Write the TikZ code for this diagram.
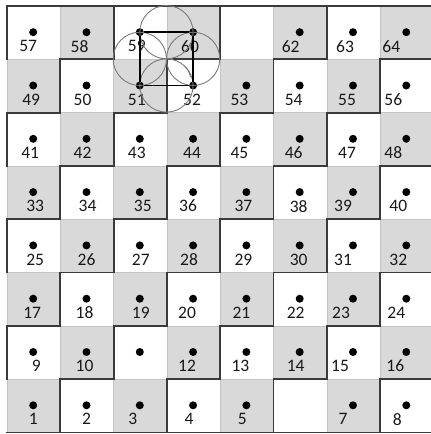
\documentclass[tikz,border=0pt]{standalone}
\usepackage{fontspec}
\setmainfont{Carlito}
\usepackage{tikz}
\usetikzlibrary{calc}
\definecolor{cellgray}{HTML}{D9D9D9}
\definecolor{gridgray}{HTML}{C4C4C4}
\definecolor{wallgray}{HTML}{3A3A3A}
\definecolor{petalgray}{HTML}{7A7A7A}
\tikzset{
    vertex/.style={circle, fill=black, inner sep=0pt, minimum size=8pt, outer sep=0pt},
    numlabel/.style={font=\fontsize{17.5}{20}\selectfont, text=black!90, inner sep=0pt},
    thinline/.style={gridgray, line width=0.6pt},
    wall/.style={wallgray, line width=1.8pt, line cap=rect},
    petal/.style={petalgray, line width=0.9pt},
    squareline/.style={black, line width=1.5pt}
}

\begin{document}
\begin{tikzpicture}[x=1pt, y=-1pt]
            \useasboundingbox (0,0) rectangle (431,434);
            \clip (0,0) rectangle (431,434);

            % checkerboard cells
            \foreach \r in {0,...,7}
                \foreach \c in {0,...,7} {
                    \pgfmathtruncatemacro{\shade}{mod(\r+\c,2)}
                    \pgfmathsetmacro{\xa}{7+53.3*\c}
                    \pgfmathsetmacro{\ya}{432.4-53.3*(\r+1)}
                    \ifnum\shade=0
                        \fill[cellgray] (\xa,\ya) rectangle ++(53.3,53.3);
                    \fi
                }

            % thin grid lines
            \foreach \k in {0,...,8} {
                \draw[thinline] (7+53.3*\k,6) -- (7+53.3*\k,432.4);
                \draw[thinline] (7,6+53.3*\k) -- (434,6+53.3*\k);
            }

            % thick walls on top and left of the white cells
            \foreach \r in {0,...,7}
                \foreach \c in {0,...,7} {
                    \pgfmathtruncatemacro{\shade}{mod(\r+\c,2)}
                    \pgfmathsetmacro{\xa}{7+53.3*\c}
                    \pgfmathsetmacro{\ya}{432.4-53.3*(\r+1)}
                    \ifnum\shade=1
                        \draw[wall] (\xa,\ya+53.3) -- (\xa,\ya) -- (\xa+53.3,\ya);
                    \fi
                }
            \draw[wall] (7,6) -- (434,6);
            \draw[wall] (7,432.4) -- (434,432.4);

            % dots (none in cells 6 and 61)
            \foreach \r in {0,...,7}
                \foreach \c in {0,...,7} {
                    \pgfmathtruncatemacro{\n}{8*\r+\c+1}
                    \pgfmathtruncatemacro{\skipit}{(\n==6)||(\n==61)}
                    \pgfmathsetmacro{\xa}{7+53.3*\c}
                    \pgfmathsetmacro{\ya}{432.4-53.3*(\r+1)}
                    \ifnum\skipit=0
                        \node[vertex] (d\n) at (\xa+26.2,\ya+26.2) {};
                    \fi
                }

            % labels (cell 11 has none)
            \foreach \n/\dx in {57/-5, 58/-7, 59/-3, 60/-3, 62/-9, 63/-8, 64/-15,
                    49/-2, 50/-4, 51/-3, 52/-1, 53/-7, 54/-6, 55/-6, 56/-13,
                    41/-3, 42/-4, 43/-3, 44/-1, 45/-7, 46/-6, 47/-6, 48/-13,
                    33/2, 34/1, 35/3, 36/-5, 37/-3, 38/-1, 39/-10, 40/-8,
                    25/2, 26/0, 27/1, 28/-4, 29/-3, 30/-1, 31/-10, 32/-8,
                    17/-1, 18/-2, 19/1, 20/-6, 21/-5, 22/-4, 23/-12, 24/-10,
                    9/3, 10/-2, 12/-6, 13/-6, 14/-4, 15/-13, 16/-11,
                    1/0, 2/0, 3/-7, 4/-4, 5/-4, 7/-10, 8/-9}
                \node[numlabel] (l\n) at ([xshift=\dx pt, yshift=-14pt]d\n.center) {\n};

            % four circles on the sides of the square
            \draw[petal] ($(d59)!0.5!(d60)$) circle[radius=26.65];
            \draw[petal] ($(d60)!0.5!(d52)$) circle[radius=26.65];
            \draw[petal] ($(d52)!0.5!(d51)$) circle[radius=26.65];
            \draw[petal] ($(d51)!0.5!(d59)$) circle[radius=26.65];
            \draw[petal] (185,67) .. controls (188.5,70) .. (190.5,77);

            % square
            \draw[squareline] (d59) -- (d60);
            \draw[squareline] (d60) -- (d52);
            \draw[squareline] (d52) -- (d51);
            \draw[squareline] (d51) -- (d59);
        \end{tikzpicture}
\end{document}
